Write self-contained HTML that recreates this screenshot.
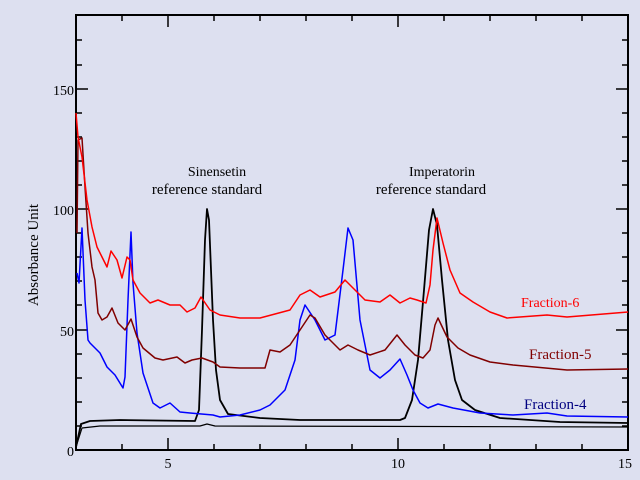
<!DOCTYPE html>
<html><head><meta charset="utf-8"><style>
html,body{margin:0;padding:0;background:#dde0f0;}
svg{display:block;}
text{font-family:"Liberation Serif",serif;}
</style></head><body>
<svg width="640" height="480" viewBox="0 0 640 480">
<rect width="640" height="480" fill="#dde0f0"/>
<g stroke="#000" stroke-width="2" fill="none">
<rect x="76" y="15" width="552" height="435"/>
</g>
<g stroke="#000" stroke-width="1.5">
<line x1="122" y1="450" x2="122" y2="444"/><line x1="168" y1="450" x2="168" y2="438"/><line x1="214" y1="450" x2="214" y2="444"/><line x1="260" y1="450" x2="260" y2="444"/><line x1="306" y1="450" x2="306" y2="444"/><line x1="352" y1="450" x2="352" y2="444"/><line x1="398" y1="450" x2="398" y2="438"/><line x1="444" y1="450" x2="444" y2="444"/><line x1="490" y1="450" x2="490" y2="444"/><line x1="536" y1="450" x2="536" y2="444"/><line x1="582" y1="450" x2="582" y2="444"/>
<line x1="122" y1="15" x2="122" y2="21"/><line x1="168" y1="15" x2="168" y2="27"/><line x1="214" y1="15" x2="214" y2="21"/><line x1="260" y1="15" x2="260" y2="21"/><line x1="306" y1="15" x2="306" y2="21"/><line x1="352" y1="15" x2="352" y2="21"/><line x1="398" y1="15" x2="398" y2="27"/><line x1="444" y1="15" x2="444" y2="21"/><line x1="490" y1="15" x2="490" y2="21"/><line x1="536" y1="15" x2="536" y2="21"/><line x1="582" y1="15" x2="582" y2="21"/>
<line x1="76" y1="426" x2="82" y2="426"/><line x1="76" y1="402" x2="82" y2="402"/><line x1="76" y1="378" x2="82" y2="378"/><line x1="76" y1="354" x2="82" y2="354"/><line x1="76" y1="330" x2="88" y2="330"/><line x1="76" y1="305" x2="82" y2="305"/><line x1="76" y1="281" x2="82" y2="281"/><line x1="76" y1="257" x2="82" y2="257"/><line x1="76" y1="233" x2="82" y2="233"/><line x1="76" y1="209" x2="88" y2="209"/><line x1="76" y1="185" x2="82" y2="185"/><line x1="76" y1="161" x2="82" y2="161"/><line x1="76" y1="137" x2="82" y2="137"/><line x1="76" y1="113" x2="82" y2="113"/><line x1="76" y1="89" x2="88" y2="89"/><line x1="76" y1="65" x2="82" y2="65"/><line x1="76" y1="40" x2="82" y2="40"/>
<line x1="628" y1="426" x2="622" y2="426"/><line x1="628" y1="402" x2="622" y2="402"/><line x1="628" y1="378" x2="622" y2="378"/><line x1="628" y1="354" x2="622" y2="354"/><line x1="628" y1="330" x2="616" y2="330"/><line x1="628" y1="305" x2="622" y2="305"/><line x1="628" y1="281" x2="622" y2="281"/><line x1="628" y1="257" x2="622" y2="257"/><line x1="628" y1="233" x2="622" y2="233"/><line x1="628" y1="209" x2="616" y2="209"/><line x1="628" y1="185" x2="622" y2="185"/><line x1="628" y1="161" x2="622" y2="161"/><line x1="628" y1="137" x2="622" y2="137"/><line x1="628" y1="113" x2="622" y2="113"/><line x1="628" y1="89" x2="616" y2="89"/><line x1="628" y1="65" x2="622" y2="65"/><line x1="628" y1="40" x2="622" y2="40"/>
</g>
<g font-size="14" fill="#000">
<text x="74" y="95" text-anchor="end">150</text>
<text x="74" y="215" text-anchor="end">100</text>
<text x="74" y="336" text-anchor="end">50</text>
<text x="74" y="456" text-anchor="end">0</text>
<text x="168" y="468" text-anchor="middle">5</text>
<text x="398" y="468" text-anchor="middle">10</text>
<text x="625" y="468" text-anchor="middle">15</text>
<text transform="translate(38,255) rotate(-90)" text-anchor="middle" font-size="15">Absorbance Unit</text>
<text x="217" y="176" text-anchor="middle" font-size="14">Sinensetin</text>
<text x="207" y="194" text-anchor="middle" font-size="15">reference standard</text>
<text x="442" y="176" text-anchor="middle" font-size="14">Imperatorin</text>
<text x="431" y="194" text-anchor="middle" font-size="15">reference standard</text>
<text x="521" y="307" fill="#ff0000">Fraction-6</text>
<text x="529" y="359" fill="#800000" font-size="15">Fraction-5</text>
<text x="524" y="409" fill="#000080" font-size="15">Fraction-4</text>
</g>
<g fill="none" stroke-width="1.5" stroke-linejoin="round">
<polyline stroke="#000" stroke-width="1.2" points="76,447 82,428 100,426 200,426 207,424 215,426 628,427"/>
<polyline stroke="#000" stroke-width="1.8" points="76,447 81,424 90,421 120,420 195,421 199,410 202,330 205,240 207,209 209,220 211,270 213,320 216,370 220,400 228,414 260,418 300,420 400,420 405,418 412,400 418,360 424,290 429,230 433,209 437,225 442,280 448,340 455,380 462,400 475,410 500,418 560,422 628,423"/>
<polyline stroke="#0000ff" points="77,273 79,283 82,228 85,300 88,340 90,343 100,353 107,367 115,375 123,388 125,377 128,300 131,232 133,283 137,333 143,373 153,403 160,408 170,403 180,412 190,413 213,415 220,417 240,415 260,410 270,405 285,390 295,360 300,320 305,305 315,320 325,340 335,335 343,270 348,228 353,240 360,320 370,370 380,378 390,370 400,359 407,375 413,390 420,403 428,408 438,404 453,408 480,413 513,415 547,413 567,416 628,417"/>
<polyline stroke="#800000" points="77,233 78,140 82,138 85,187 88,233 92,267 95,280 98,313 102,320 107,317 112,308 118,323 125,330 131,319 137,337 143,348 155,358 163,360 177,357 185,363 192,360 202,358 213,362 220,367 240,368 265,368 270,350 280,352 290,345 300,330 310,315 315,318 325,335 340,350 348,345 358,350 370,355 385,350 397,335 405,345 415,355 423,358 430,350 435,325 438,318 447,337 458,348 470,355 490,362 513,365 567,370 628,369"/>
<polyline stroke="#ff0000" points="76,113 78,137 82,157 87,200 92,227 97,247 102,257 107,267 111,251 117,260 122,278 127,257 130,260 133,280 140,293 150,303 158,300 170,305 180,305 187,312 195,308 201,297 210,310 220,315 240,318 260,318 290,310 300,295 310,290 320,297 335,292 345,280 355,290 365,300 380,302 390,295 400,303 410,298 417,300 426,303 430,285 433,250 437,218 443,243 450,270 460,293 473,302 490,312 507,318 547,315 567,317 628,312"/>
</g>
</svg>
</body></html>
